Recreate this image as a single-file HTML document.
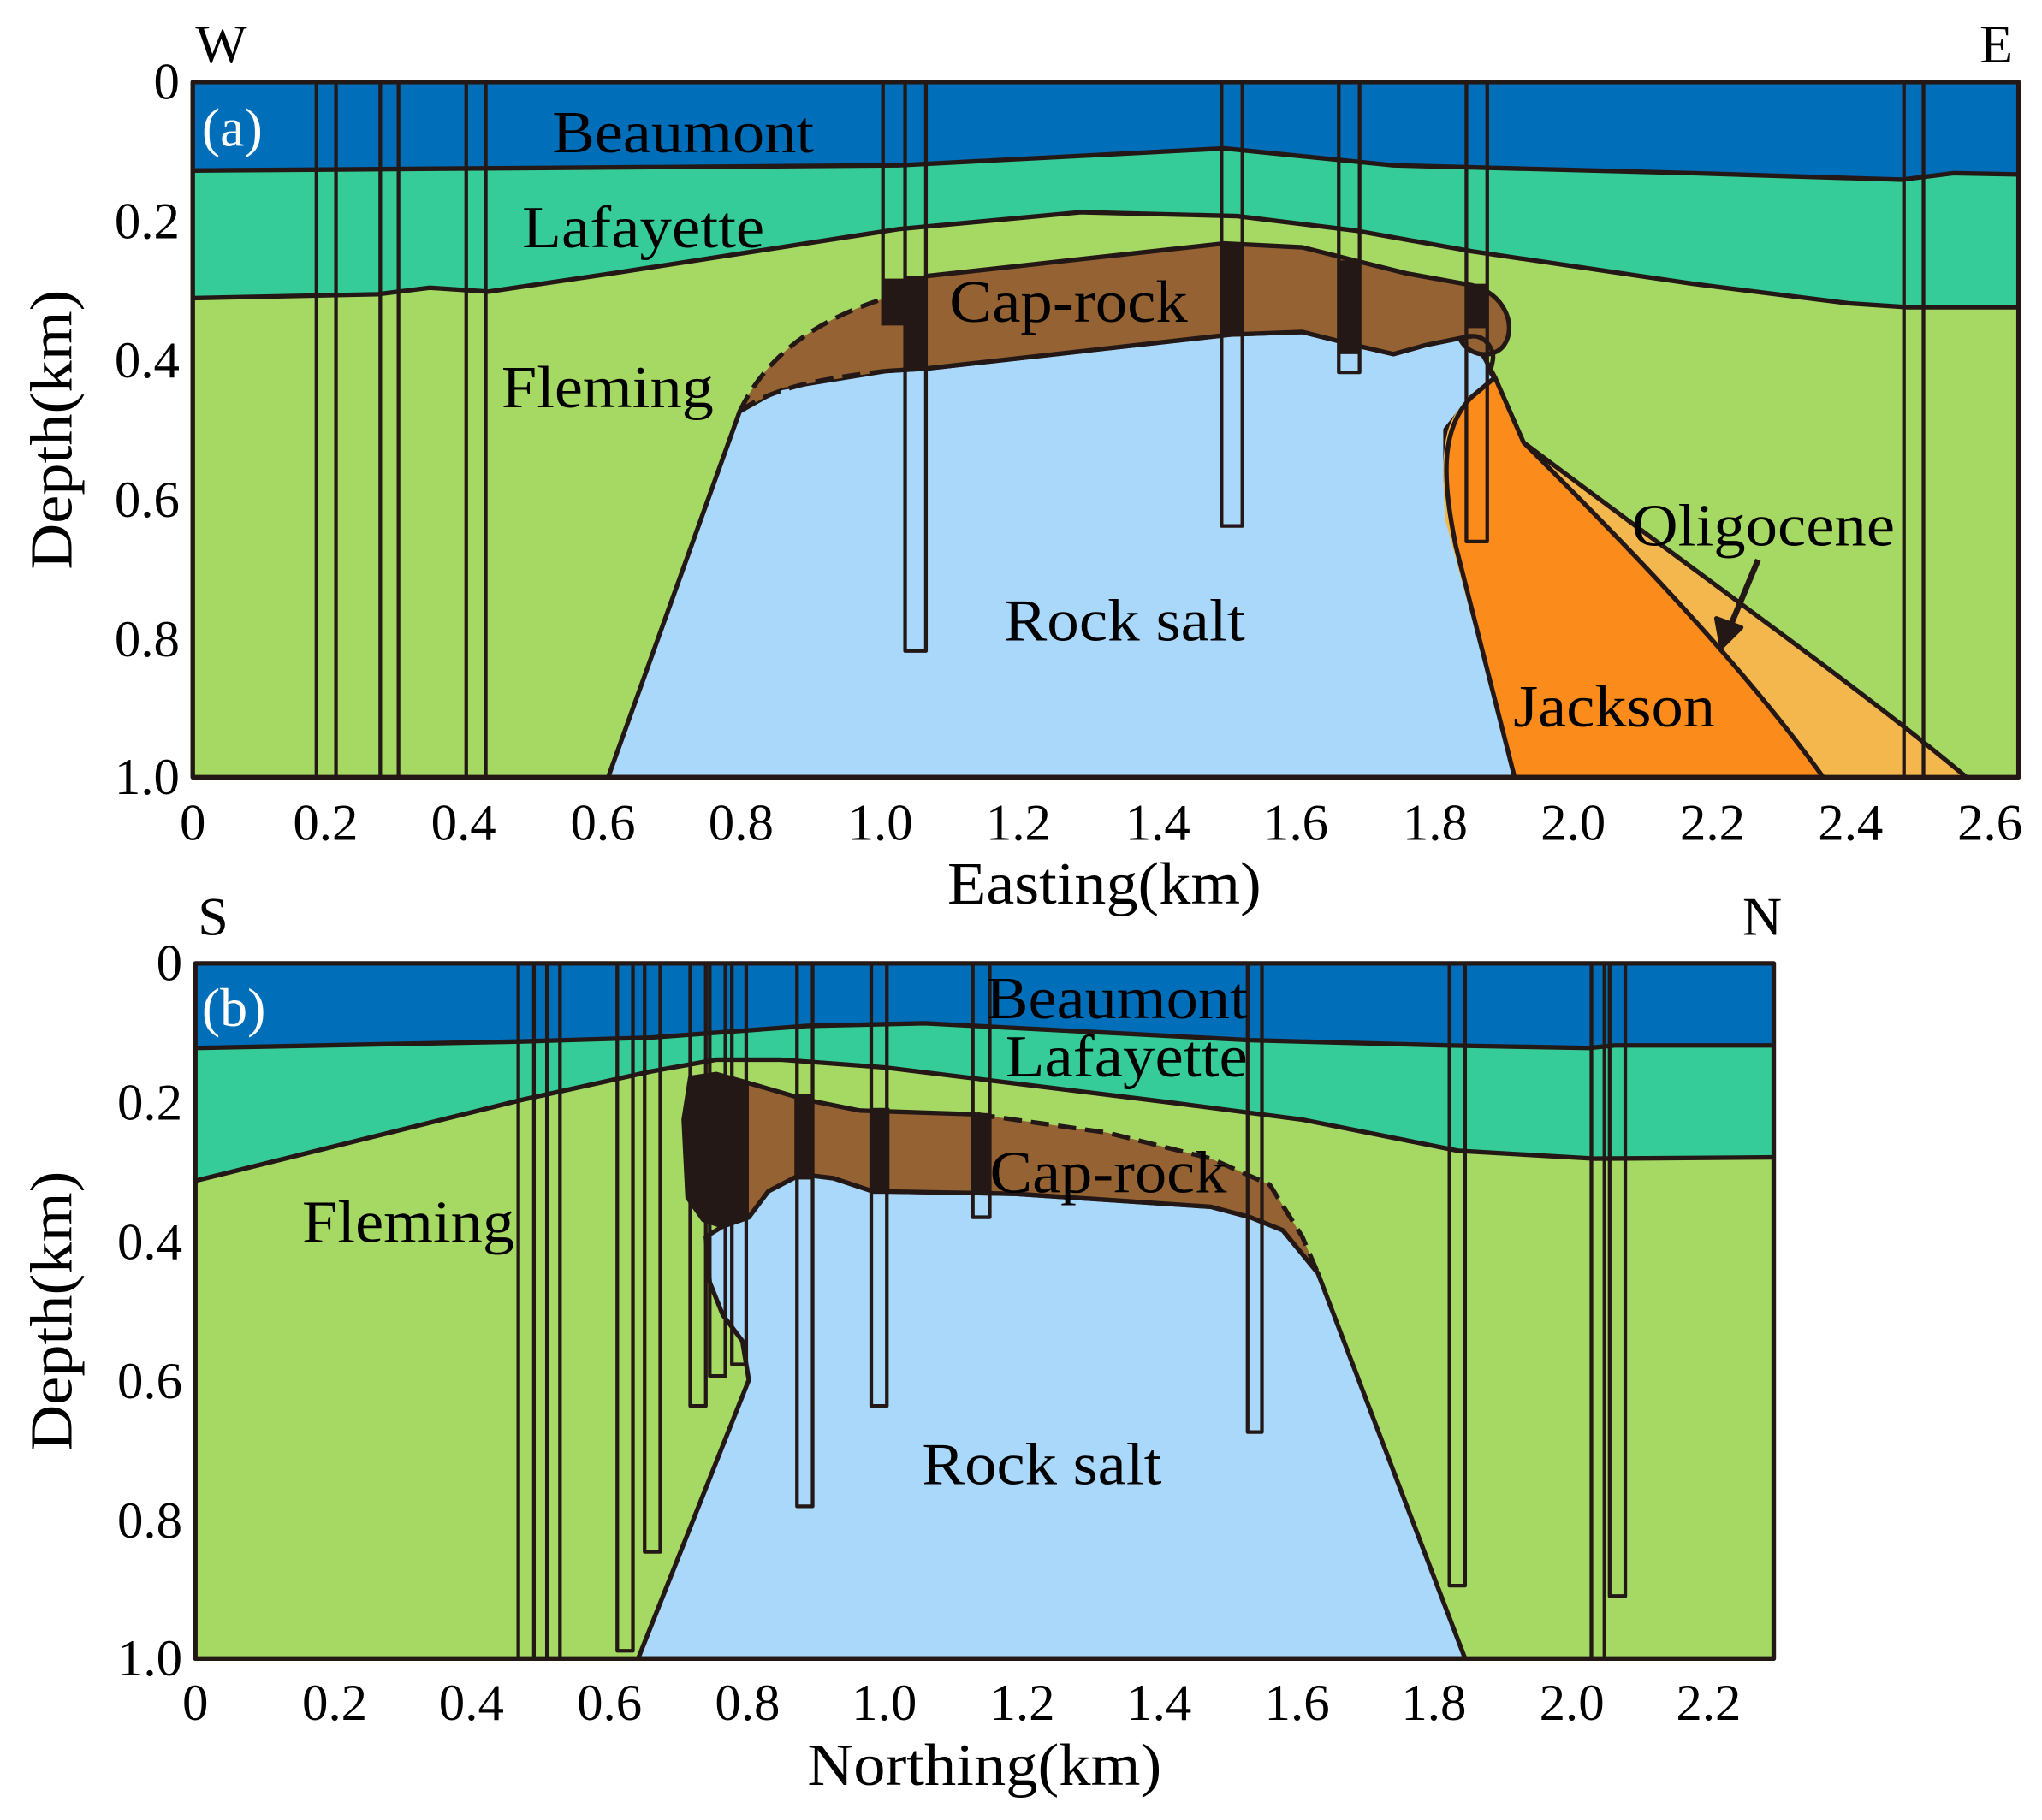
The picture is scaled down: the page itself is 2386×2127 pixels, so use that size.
<!DOCTYPE html>
<html><head><meta charset="utf-8"><style>html,body{margin:0;padding:0;background:#fff}svg{display:block}</style></head><body>
<svg width="2386" height="2127" viewBox="0 0 1568 1398" preserveAspectRatio="none" xmlns="http://www.w3.org/2000/svg" font-family="Liberation Serif, serif">
<g stroke="#231815" stroke-width="3.5" stroke-linejoin="round">
<!-- Panel A -->
<rect x="148" y="63" width="1402" height="534" fill="#a6d864" stroke="none"/>
<path d="M148,63 H1550 V236 L1465,236 L1420,233 L1300,218 L1130,193 L1040,177 L950,166 L830,163 L690,176 L470,210 L375,224 L330,221 L290,226 L148,229 Z" fill="#36cc99" stroke="none"/>
<path d="M148,229 L290,226 L330,221 L375,224 L470,210 L690,176 L830,163 L950,166 L1040,177 L1130,193 L1300,218 L1420,233 L1465,236 L1550,236" fill="none"/>
<path d="M148,63 H1550 V134 L1500,133 L1460,138 L1300,133 L1070,127 L940,114 L690,127 L148,131 Z" fill="#006eb9" stroke="none"/>
<path d="M148,131 L690,127 L940,114 L1070,127 L1300,133 L1460,138 L1500,133 L1550,134" fill="none"/>
<path d="M568,316 L467,597 L1163,597 L1120,420 L1110,370 L1110,330 L1130,305 L1148,290 L1140,275 L1130,258 L1095,265 L1070,272 L1040,265 L1000,255 L945,257 L712,283 L680,285 L600,298 Z" fill="#a9d8fb"/>
<path d="M1510,597 C1430,530 1330,460 1170,340 L1148,290 L1130,305 C1110,320 1105,340 1110,400 L1163,597 Z" fill="#f4b74e" stroke="none"/>
<path d="M1148,290 L1170,340 C1230,400 1330,500 1400,597 L1163,597 L1118,420 C1108,370 1105,330 1130,305 Z" fill="#fb8b1a"/>
<path d="M1170,340 C1330,460 1430,530 1510,597" fill="none"/>
<path d="M568,316 C590,270 630,245 680,229 L712,212 L940,187 L1000,190 L1040,200 L1080,210 L1130,219 C1155,225 1165,250 1155,265 C1148,275 1135,272 1125,265 L1130,258 L1095,265 L1070,272 L1040,265 L1000,255 L945,257 L712,283 L680,285 L600,298 Z" fill="#956333" stroke="none"/>
<path d="M680,229 L712,212 L940,187 L1000,190 L1040,200 L1080,210 L1130,219 C1155,225 1165,250 1155,265 C1148,275 1130,275 1122,262 C1130,255 1140,258 1145,268" fill="none"/>
<path d="M1145,268 C1150,278 1140,285 1148,290" fill="none"/>
<path d="M1130,258 L1095,265 L1070,272 L1040,265 L1000,255 L945,257 L712,283 L680,285" fill="none"/>
<path d="M568,316 C590,270 630,245 680,229 M568,316 C590,300 620,292 680,285" fill="none" stroke-dasharray="14,7"/>
<g fill="none" stroke-width="2.8">
<path d="M243,63V597M258,63V597M292,63V597M306,63V597M358,63V597M373,63V597M1462,63V597M1477,63V597"/>
<path d="M678,63V250M695,63V500H711V63M938,63V404H954V63M1028,63V286H1044V63M1126,63V416H1142V63"/>
</g>
<g fill="#231815" stroke="none">
<rect x="678" y="214" width="34" height="36"/><rect x="695" y="212" width="17" height="72"/>
<rect x="938" y="188" width="17" height="70"/><rect x="1028" y="200" width="17" height="72"/>
<rect x="1126" y="218" width="16" height="34"/>
</g>
<rect x="148" y="63" width="1402" height="534" fill="none"/>
<path d="M1350,430 L1327,485" fill="none" stroke-width="4.5"/>
<path d="M1322,497 L1318,475 L1337,482 Z" fill="#231815"/>

<!-- Panel B -->
<rect x="150" y="740" width="1212" height="534" fill="#a6d864" stroke="none"/>
<path d="M150,740 H1362 V889 L1225,890 L1120,884 L1000,860 L900,847 L680,820 L600,814 L550,814 L500,823 L400,845 L150,907 Z" fill="#36cc99" stroke="none"/>
<path d="M150,907 L400,845 L500,823 L550,814 L600,814 L680,820 L900,847 L1000,860 L1120,884 L1225,890 L1362,889" fill="none"/>
<path d="M150,740 H1362 V803 L1240,803 L1220,805 L1110,803 L960,799 L710,786 L620,788 L500,797 L400,800 L150,805 Z" fill="#006eb9" stroke="none"/>
<path d="M150,805 L400,800 L500,797 L620,788 L710,786 L960,799 L1110,803 L1220,805 L1240,803 L1362,803" fill="none"/>
<path d="M1012,978 L1125,1274 L490,1274 L575,1060 L570,1030 L555,1010 L545,985 L542,950 L555,942 L575,935 L590,915 L615,902 L640,905 L670,915 L780,917 L930,927 L960,935 L985,945 Z" fill="#a9d8fb"/>
<path d="M530,828 L550,825 L575,832 L620,845 L660,853 L750,856 L850,870 L930,890 L975,910 L1000,950 L1012,978 L985,945 L960,935 L930,927 L780,917 L670,915 L640,905 L615,902 L590,915 L575,935 L555,942 L540,937 L528,920 L525,860 Z" fill="#956333" stroke="none"/>
<path d="M750,856 L660,853 L620,845 L575,832 L550,825 L530,828 L525,860 L528,920 L540,937 L555,942 L575,935 L590,915 L615,902 L640,905 L670,915 L780,917 L930,927 L960,935 L985,945 L1012,978" fill="none"/>
<path d="M750,856 L850,870 L930,890 L975,910 L1000,950 L1012,978" fill="none" stroke-dasharray="14,7"/>
<g fill="#231815" stroke="none">
<path d="M530,828 L550,825 L575,832 L575,935 L555,942 L540,937 L528,920 L525,860 Z"/>
<rect x="610" y="840" width="14" height="66"/><rect x="669" y="851" width="14" height="66"/><rect x="747" y="855" width="13" height="63"/>
</g>
<g fill="none" stroke-width="2.8">
<path d="M398,740V1274M410,740V1274M420,740V1274M430,740V1274M1222,740V1274M1232,740V1274"/>
<path d="M474,740V1268H486V740M495,740V1192H507V740M530,740V1080H542V740M545,740V1057H557V740M562,740V1048H573V740M612,740V1157H624V740M669,740V1080H681V740M747,740V935H760V740M958,740V1100H969V740M1113,740V1218H1125V740M1236,740V1226H1248V740"/>
</g>
<rect x="150" y="740" width="1212" height="534" fill="none"/>
</g>

<g font-size="46" fill="#000" lengthAdjust="spacingAndGlyphs">
<text x="150" y="48" font-size="42">W</text><text x="1520" y="48" font-size="42">E</text>
<text x="152" y="718" font-size="42">S</text><text x="1338" y="718" font-size="42">N</text>
<text x="155" y="112" fill="#fff" font-size="42">(a)</text>
<text x="155" y="788" fill="#fff" font-size="42">(b)</text>
<text x="424" y="117" textLength="201" lengthAdjust="spacingAndGlyphs">Beaumont</text>
<text x="401" y="190" textLength="186" lengthAdjust="spacingAndGlyphs">Lafayette</text>
<text x="729" y="247" textLength="183" lengthAdjust="spacingAndGlyphs">Cap-rock</text>
<text x="385" y="313" textLength="163" lengthAdjust="spacingAndGlyphs">Fleming</text>
<text x="771" y="492" textLength="185" lengthAdjust="spacingAndGlyphs">Rock salt</text>
<text x="1253" y="419" textLength="202" lengthAdjust="spacingAndGlyphs">Oligocene</text>
<text x="1162" y="558" textLength="155" lengthAdjust="spacingAndGlyphs">Jackson</text>
<text x="757" y="782" textLength="201" lengthAdjust="spacingAndGlyphs">Beaumont</text>
<text x="772" y="827" textLength="186" lengthAdjust="spacingAndGlyphs">Lafayette</text>
<text x="760" y="916" textLength="182" lengthAdjust="spacingAndGlyphs">Cap-rock</text>
<text x="232" y="954" textLength="163" lengthAdjust="spacingAndGlyphs">Fleming</text>
<text x="708" y="1140" textLength="184" lengthAdjust="spacingAndGlyphs">Rock salt</text>
</g>
<g font-size="40" fill="#000" text-anchor="end">
<text x="138" y="76">0</text><text x="138" y="183">0.2</text><text x="138" y="290">0.4</text><text x="138" y="397">0.6</text><text x="138" y="504">0.8</text><text x="138" y="610">1.0</text>
<text x="140" y="753">0</text><text x="140" y="860">0.2</text><text x="140" y="967">0.4</text><text x="140" y="1074">0.6</text><text x="140" y="1181">0.8</text><text x="140" y="1287">1.0</text>
</g>
<g font-size="40" fill="#000" text-anchor="middle">
<text x="148" y="645">0</text><text x="250" y="645">0.2</text><text x="356" y="645">0.4</text><text x="463" y="645">0.6</text><text x="569" y="645">0.8</text><text x="676" y="645">1.0</text><text x="782" y="645">1.2</text><text x="889" y="645">1.4</text><text x="995" y="645">1.6</text><text x="1102" y="645">1.8</text><text x="1208" y="645">2.0</text><text x="1315" y="645">2.2</text><text x="1421" y="645">2.4</text><text x="1528" y="645">2.6</text>
<text x="150" y="1321">0</text><text x="257" y="1321">0.2</text><text x="362" y="1321">0.4</text><text x="468" y="1321">0.6</text><text x="574" y="1321">0.8</text><text x="679" y="1321">1.0</text><text x="785" y="1321">1.2</text><text x="890" y="1321">1.4</text><text x="996" y="1321">1.6</text><text x="1101" y="1321">1.8</text><text x="1207" y="1321">2.0</text><text x="1312" y="1321">2.2</text>
<text x="848" y="694" font-size="46" textLength="241" lengthAdjust="spacingAndGlyphs">Easting(km)</text>
<text x="756" y="1371" font-size="46" textLength="272" lengthAdjust="spacingAndGlyphs">Northing(km)</text>
<text transform="translate(55,330) rotate(-90)" font-size="46" textLength="215" lengthAdjust="spacingAndGlyphs">Depth(km)</text>
<text transform="translate(55,1007) rotate(-90)" font-size="46" textLength="215" lengthAdjust="spacingAndGlyphs">Depth(km)</text>
</g>
</svg>
</body></html>
